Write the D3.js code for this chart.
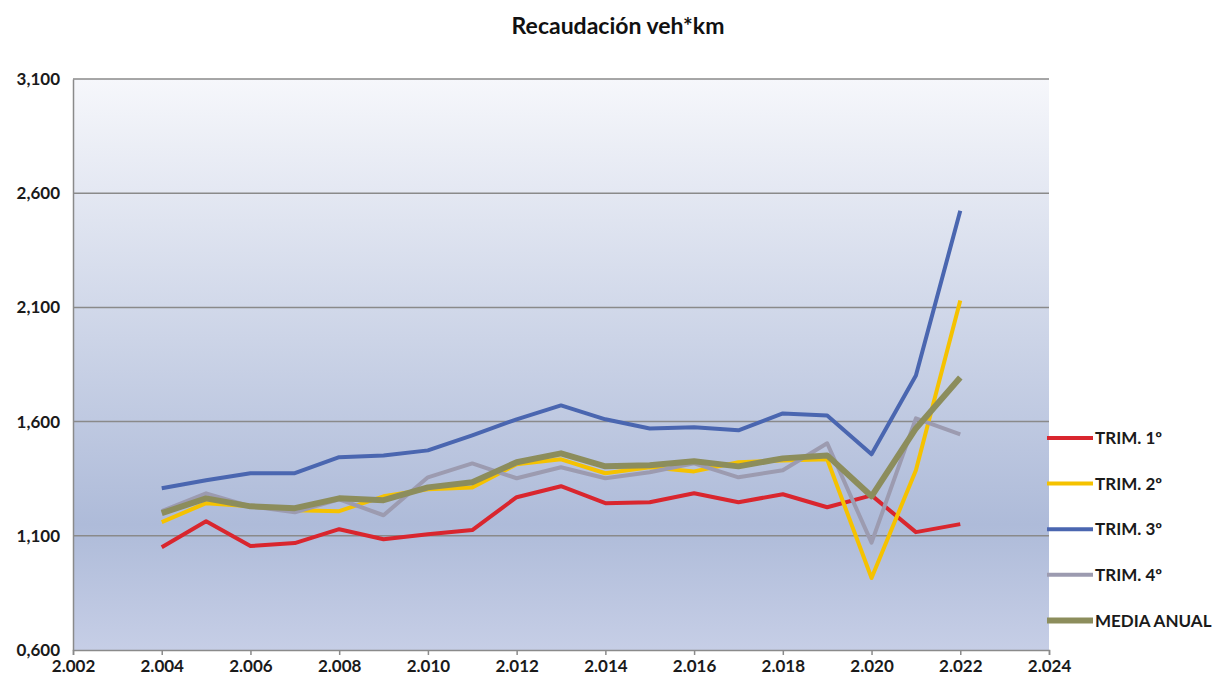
<!DOCTYPE html>
<html>
<head>
<meta charset="utf-8">
<script src="https://cdn.jsdelivr.net/npm/d3@7"></script>
<style>
  body { margin: 0; background: #fff; }
  svg { display: block; font-family: Lato, "Open Sans", sans-serif; }
</style>
</head>
<body>
<svg id="chart" width="1213" height="683"></svg>
<script>
// values in thousands (shown as 0,600 ... 3,100)
const years = [2004, 2005, 2006, 2007, 2008, 2009, 2010, 2011, 2012, 2013,
               2014, 2015, 2016, 2017, 2018, 2019, 2020, 2021, 2022];

const trim1 = [1.050, 1.164, 1.055, 1.068, 1.129, 1.085, 1.107, 1.125, 1.269, 1.317,
               1.243, 1.247, 1.286, 1.247, 1.282, 1.225, 1.277, 1.116, 1.151];
const trim2 = [1.160, 1.243, 1.229, 1.212, 1.208, 1.273, 1.304, 1.312, 1.413, 1.435,
               1.374, 1.400, 1.382, 1.422, 1.430, 1.435, 0.915, 1.387, 2.130];
const trim3 = [1.308, 1.343, 1.374, 1.374, 1.444, 1.452, 1.474, 1.540, 1.610, 1.671,
               1.610, 1.570, 1.575, 1.562, 1.636, 1.627, 1.457, 1.802, 2.523];
const trim4 = [1.208, 1.286, 1.229, 1.203, 1.260, 1.190, 1.356, 1.417, 1.352, 1.400,
               1.352, 1.378, 1.417, 1.356, 1.387, 1.505, 1.070, 1.614, 1.544];
const media = [1.199, 1.264, 1.229, 1.221, 1.264, 1.256, 1.312, 1.334, 1.422, 1.461,
               1.404, 1.409, 1.426, 1.404, 1.439, 1.452, 1.273, 1.570, 1.793];

const seriesNames = ["TRIM. 1º", "TRIM. 2º", "TRIM. 3º", "TRIM. 4º", "MEDIA ANUAL"];
const seriesData = [trim1, trim2, trim3, trim4, media];
const colors = ["#d9262e", "#f5c200", "#4a66b0", "#9c9bb0", "#8c8d5c"];
const widths = [4, 4, 4, 4, 6];

const xTicks = [2002, 2004, 2006, 2008, 2010, 2012, 2014, 2016, 2018, 2020, 2022, 2024];
const yTicks = [0.6, 1.1, 1.6, 2.1, 2.6, 3.1];

const es = d3.formatLocale({decimal: ",", thousands: ".", grouping: [3], currency: ["", "€"]});

const svg = d3.select("#chart");
const m = {left: 73, right: 1049, top: 79, bottom: 650};

const x = d3.scaleLinear().domain([2002, 2024]).range([m.left, m.right]);
const y = d3.scaleLinear().domain([0.6, 3.1]).range([m.bottom, m.top]);

// plot area background
const grad = svg.append("defs").append("linearGradient")
  .attr("id", "bg").attr("x1", 0).attr("y1", 0).attr("x2", 0).attr("y2", 1);
grad.append("stop").attr("offset", "0%").attr("stop-color", "#f6f7fb");
grad.append("stop").attr("offset", "78%").attr("stop-color", "#aebbd9");
grad.append("stop").attr("offset", "100%").attr("stop-color", "#c6cee6");

svg.append("rect")
  .attr("x", m.left).attr("y", m.top)
  .attr("width", m.right - m.left).attr("height", m.bottom - m.top)
  .attr("fill", "url(#bg)");

// gridlines
svg.append("g")
  .selectAll("line")
  .data(yTicks.slice(1))
  .join("line")
  .attr("x1", m.left).attr("x2", m.right)
  .attr("y1", d => y(d)).attr("y2", d => y(d))
  .attr("stroke", "#8a8a8a").attr("stroke-width", 1.5);

// axes
const yAxis = svg.append("g")
  .attr("transform", `translate(${m.left},0)`)
  .call(d3.axisLeft(y).tickValues(yTicks).tickFormat(es.format(".3f")).tickSize(0).tickPadding(13));
const xAxis = svg.append("g")
  .attr("transform", `translate(0,${m.bottom})`)
  .call(d3.axisBottom(x).tickValues(xTicks).tickFormat(es.format(",.0f")).tickSize(5).tickPadding(5));

[yAxis, xAxis].forEach(g => {
  g.select(".domain").attr("stroke", "#8a8a8a").attr("stroke-width", 1.5);
  g.selectAll(".tick line").attr("stroke", "#8a8a8a").attr("stroke-width", 1.5);
  g.selectAll("text")
    .attr("fill", "#1a1a1a")
    .style("font-size", "17px").style("font-weight", "700")
    .style("font-family", "Lato, 'Open Sans', sans-serif");
});

// series lines
const line = d3.line()
  .x((d, i) => x(years[i]))
  .y(d => y(d));

svg.append("g")
  .selectAll("path")
  .data(seriesData)
  .join("path")
  .attr("d", d => line(d))
  .attr("fill", "none")
  .attr("stroke", (d, i) => colors[i])
  .attr("stroke-width", (d, i) => widths[i])
  .attr("stroke-linejoin", "round");

// legend
const legend = svg.append("g")
  .selectAll("g")
  .data(seriesNames)
  .join("g")
  .attr("transform", (d, i) => `translate(1047,${438 + i * 45.6})`);

legend.append("line")
  .attr("x1", 0).attr("x2", 46)
  .attr("stroke", (d, i) => colors[i])
  .attr("stroke-width", (d, i) => widths[i]);

legend.append("text")
  .attr("x", 48).attr("dy", "0.36em")
  .attr("fill", "#1a1a1a")
  .style("font-size", "17px").style("font-weight", "700")
  .text(d => d);

// title
svg.append("text")
  .attr("x", 618).attr("y", 34)
  .attr("text-anchor", "middle")
  .attr("fill", "#111")
  .style("font-size", "23px").style("font-weight", "700")
  .text("Recaudación veh*km");
</script>
</body>
</html>
